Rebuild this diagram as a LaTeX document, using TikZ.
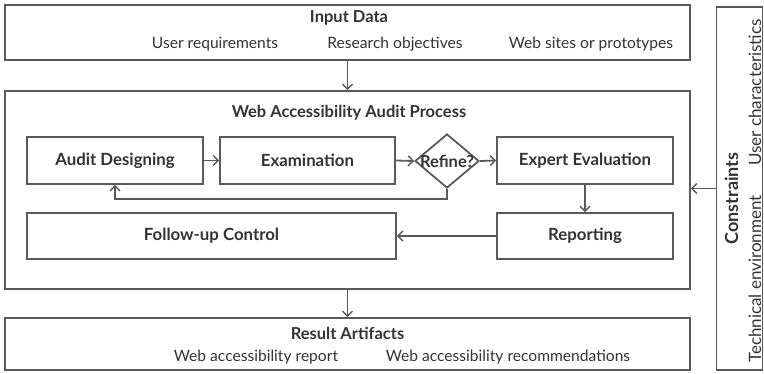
\documentclass[tikz,border=0pt]{standalone}
\usepackage{fontspec}
\setmainfont{Lato}
\usetikzlibrary{arrows.meta,shapes.geometric}
\definecolor{ln}{HTML}{5A5A5A}
\definecolor{tx}{HTML}{333333}
\begin{document}
\begin{tikzpicture}[x=1pt,y=-1pt,
  every node/.style={text=tx,inner sep=0pt},
  frame/.style={draw=ln,line width=1.8pt,rectangle},
  stepbox/.style={frame,font=\fontsize{16.8}{18}\selectfont\bfseries},
  ttl/.style={font=\fontsize{16.5}{18}\selectfont\bfseries},
  itm/.style={font=\fontsize{15.6}{17}\selectfont},
  arr/.style={draw=ln,line width=1.8pt,-{Straight Barb[length=5pt,width=10pt,line width=1.4pt]}}]
\useasboundingbox (0,0) rectangle (764,373);
% Input
\node[frame,minimum width=685,minimum height=55] (inp) at (347.5,32.5) {};
\node[ttl] (inpt) at (349,18) {Input Data};
\node[itm] (i1) at (215,44) {User requirements};
\node[itm] (i2) at (395,44) {Research objectives};
\node[itm] (i3) at (591,44) {Web sites or prototypes};
% Process
\node[frame,minimum width=685,minimum height=198] (proc) at (347.5,190) {};
\node[ttl] (proct) at (349,113) {Web Accessibility Audit Process};
\node[stepbox,minimum width=176,minimum height=47] (audit) at (115,160.5) {Audit Designing};
\node[stepbox,minimum width=175,minimum height=47] (exam) at (307.5,160.5) {Examination};
\node[draw=ln,line width=1.8pt,diamond,minimum width=64,minimum height=54,inner sep=0pt,
  label={[font=\fontsize{16.5}{18}\selectfont\bfseries,text=tx]center:Refine?}] (ref) at (447,161) {};
\node[stepbox,minimum width=176,minimum height=47] (expert) at (585,160.5) {Expert Evaluation};
\node[stepbox,minimum width=369,minimum height=46] (follow) at (211.5,236) {Follow-up Control};
\node[stepbox,minimum width=176,minimum height=46] (report) at (585,236) {Reporting};
% Result
\node[frame,minimum width=685,minimum height=52] (res) at (347.5,344) {};
\node[ttl] (rest) at (347.5,333) {Result Artifacts};
\node[itm] (r1) at (256,357) {Web accessibility report};
\node[itm] (r2) at (508,357) {Web accessibility recommendations};
% Constraints
\node[frame,minimum width=46,minimum height=363] (cons) at (739.5,188.5) {};
\node[rotate=90,font=\fontsize{18}{20}\selectfont\bfseries] (const) at (731.5,198.5) {Constraints};
\node[rotate=90,font=\fontsize{17}{19}\selectfont] (c1) at (755,92.5) {User characteristics};
\node[rotate=90,font=\fontsize{17}{19}\selectfont] (c2) at (755,279) {Technical environment};
% connectors
\draw[arr] (inp.south) -- (proc.north);
\draw[arr] (proc.south) -- (res.north);
\draw[arr] (audit.east) -- (exam.west);
\draw[arr] (exam.east) -- (ref.west);
\draw[arr] (ref.east) -- (expert.west);
\draw[arr] (ref.south) -- ++(0,10) -| (audit.south);
\draw[arr] (expert.south) -- (report.north);
\draw[arr] (report.west) -- (follow.east);
\draw[arr] (cons.west) -- (cons.west -| proc.east);
\end{tikzpicture}
\end{document}
